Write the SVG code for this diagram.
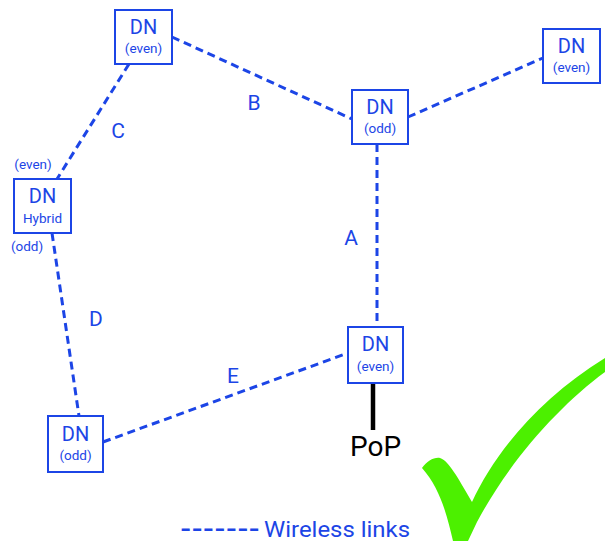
<svg xmlns="http://www.w3.org/2000/svg" width="605" height="541" viewBox="0 0 605 541">
<style>
.box{fill:#fff;stroke:#1c45e6;stroke-width:2}
.t{font-family:Roboto,"Liberation Sans",sans-serif;fill:#1c45e6;text-anchor:middle}
.dn{font-size:20px}
.sub{font-size:13.5px}
.lbl{font-size:21px}
.link{stroke:#1c45e6;stroke-width:3;stroke-dasharray:8 5;fill:none}
</style>
<rect width="605" height="541" fill="#fff"/>
<g id="connectors">
<line class="link" x1="172" y1="37" x2="352" y2="119"/>
<line class="link" x1="408" y1="117" x2="543" y2="58"/>
<line class="link" x1="129" y1="64" x2="57" y2="179"/>
<line class="link" x1="377" y1="144" x2="377" y2="327"/>
<line class="link" x1="52" y1="233" x2="79" y2="416"/>
<line class="link" x1="103" y1="442" x2="348" y2="353"/>
<line x1="373" y1="383" x2="373" y2="430" stroke="#000" stroke-width="4.5"/>
</g>
<g id="labels">
<text class="t lbl" x="254" y="110">B</text>
<text class="t lbl" x="118" y="138">C</text>
<text class="t lbl" x="351" y="245">A</text>
<text class="t lbl" x="96" y="326">D</text>
<text class="t lbl" x="233" y="383">E</text>
</g>
<g id="n1">
<rect class="box" x="115" y="10" width="57" height="54"/>
<text class="t dn" x="143.5" y="34">DN</text>
<text class="t sub" x="143.5" y="53">(even)</text>
</g>
<g id="n2">
<rect class="box" x="352" y="90" width="56" height="54"/>
<text class="t dn" x="380" y="114">DN</text>
<text class="t sub" x="380" y="133">(odd)</text>
</g>
<g id="n3">
<rect class="box" x="543" y="29" width="57" height="54"/>
<text class="t dn" x="571.5" y="53">DN</text>
<text class="t sub" x="571.5" y="72">(even)</text>
</g>
<g id="n4">
<rect class="box" x="14" y="179" width="57" height="54"/>
<text class="t dn" x="42.5" y="203">DN</text>
<text class="t sub" x="42.5" y="223">Hybrid</text>
<text class="t sub" x="33" y="169">(even)</text>
<text class="t sub" x="27" y="251">(odd)</text>
</g>
<g id="n5">
<rect class="box" x="348" y="327" width="55" height="56"/>
<text class="t dn" x="375.5" y="351">DN</text>
<text class="t sub" x="375.5" y="371">(even)</text>
</g>
<g id="n6">
<rect class="box" x="48" y="416" width="55" height="56"/>
<text class="t dn" x="75.5" y="441">DN</text>
<text class="t sub" x="75.5" y="460">(odd)</text>
</g>
<g id="pop">
<text x="375.5" y="456" font-family="Roboto,'Liberation Sans',sans-serif" font-size="28" text-anchor="middle" fill="#000">PoP</text>
</g>
<g id="legend">
<text y="537" font-family="Roboto,'Liberation Sans',sans-serif" font-size="22" fill="#1c45e6"><tspan x="180" textLength="80" lengthAdjust="spacingAndGlyphs" font-weight="700">-------</tspan><tspan x="264" textLength="146" lengthAdjust="spacingAndGlyphs">Wireless links</tspan></text>
</g>
<g id="check">
<path fill="#4cf000" d="M422,468 C427,461 434,457 440,458 C449,461 458,478 472,502 C495,452 540,398 605,358 L605,372 C560,405 510,460 477,522 L468,541 L453,541 C447,515 440,488 422,468 Z"/>
</g>
</svg>
